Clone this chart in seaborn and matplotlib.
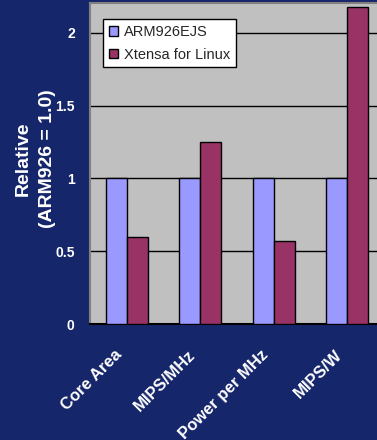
import pandas as pd
import matplotlib
matplotlib.use("Agg")
import matplotlib.pyplot as plt
import matplotlib.transforms as mtransforms
import seaborn as sns

# Data
categories = ["Core Area", "MIPS/MHz", "Power per MHz", "MIPS/W"]
arm_values = [1.0, 1.0, 1.0, 1.0]
xtensa_values = [0.6, 1.25, 0.57, 2.18]
series_names = ["ARM926EJS", "Xtensa for Linux"]

df = pd.DataFrame({
    "Metric": categories * 2,
    "Value": arm_values + xtensa_values,
    "Core": [series_names[0]] * 4 + [series_names[1]] * 4,
})

sns.set_style("white")
plt.rcParams["font.family"] = ["Liberation Sans", "DejaVu Sans"]

navy = "#15266A"
fig = plt.figure(figsize=(3.77, 4.40), dpi=100, facecolor=navy)
ax = fig.add_axes([90 / 377, 116 / 440, 294 / 377, 321 / 440])
ax.set_facecolor("#C0C0C0")

sns.barplot(data=df, x="Metric", y="Value", hue="Core",
            palette=["#9999FF", "#993366"], width=0.57,
            edgecolor="black", linewidth=1, saturation=1, ax=ax, zorder=3)

ax.set_xlim(-0.5, 3.5)
ax.set_ylim(0, 2.205)
ax.set_yticks([0, 0.5, 1, 1.5, 2])
ax.set_yticklabels(["0", "0.5", "1", "1.5", "2"])
ax.yaxis.grid(True, color="black", linewidth=1, zorder=0)
ax.set_axisbelow(True)

# tick marks at category boundaries
ax.set_xticks([-0.5, 0.5, 1.5, 2.5], minor=True)
ax.tick_params(axis="x", which="minor", length=4, width=1.2, color="black", direction="out")
ax.tick_params(axis="x", which="major", length=0, pad=13)
ax.tick_params(axis="y", length=5, width=1, color="black", direction="out", pad=6)

shift = mtransforms.ScaledTranslation(-0.13, -0.05, fig.dpi_scale_trans)
for lbl in ax.get_xticklabels():
    lbl.set_rotation(45)
    lbl.set_ha("right")
    lbl.set_rotation_mode("anchor")
    lbl.set_transform(lbl.get_transform() + shift)
plt.setp(ax.get_xticklabels(), color="white", fontweight="bold", fontsize=12)
plt.setp(ax.get_yticklabels(), color="white", fontweight="bold", fontsize=10)

ax.set_xlabel("")
ax.set_ylabel("Relative\n(ARM926 = 1.0)", color="white", fontweight="bold",
              fontsize=14, linespacing=1.55)
ax.yaxis.set_label_coords(-0.115, 0.515)

for side in ["top", "right", "left"]:
    ax.spines[side].set_color("#808080")
    ax.spines[side].set_linewidth(1.5)
ax.spines["bottom"].set_color("black")
ax.spines["bottom"].set_linewidth(1.5)

leg = ax.legend(loc="upper left", bbox_to_anchor=(0.044, 0.95), frameon=True,
                fancybox=False, edgecolor="black", framealpha=1, fontsize=10.5,
                handlelength=0.65, handleheight=0.65, handletextpad=0.4,
                borderpad=0.4, labelspacing=0.6, borderaxespad=0)
leg.get_frame().set_linewidth(1)

fig.savefig("out.png", dpi=100, facecolor=navy)
